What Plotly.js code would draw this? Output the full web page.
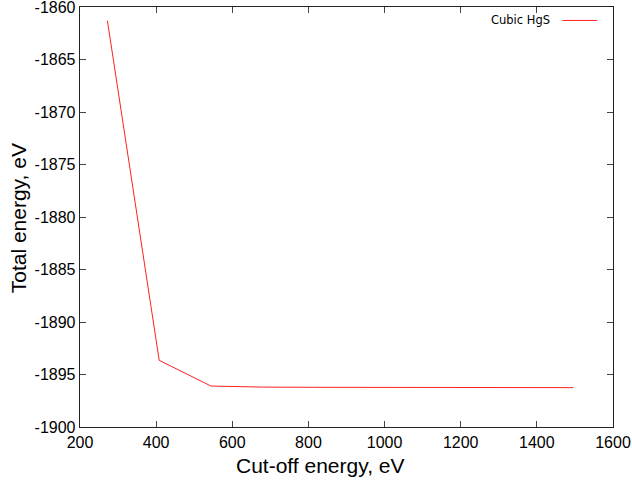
<!DOCTYPE html>
<html>
<head>
<meta charset="utf-8">
<script src="https://cdn.plot.ly/plotly-3.0.1.min.js"></script>
<style>html,body{margin:0;padding:0;background:#fff;}#chart{width:632px;height:481px;}</style>
</head>
<body>
<div id="chart"></div>
<script>
const cutoffEnergy = [272, 408, 544, 680, 816, 952, 1088, 1224, 1360, 1496];
const totalEnergy = [-1861.3, -1893.65, -1896.1, -1896.2, -1896.22, -1896.23, -1896.24, -1896.24, -1896.25, -1896.25];
const seriesName = "Cubic HgS";
const xTicks = [200, 400, 600, 800, 1000, 1200, 1400, 1600];
const yTicks = [-1900, -1895, -1890, -1885, -1880, -1875, -1870, -1865, -1860];
const xTitle = "Cut-off energy, eV";
const yTitle = "Total energy, eV";

const trace = {
  x: cutoffEnergy, y: totalEnergy, type: 'scatter', mode: 'lines',
  name: seriesName, line: {color: '#ff2020', width: 1}, showlegend: false
};
const axisCommon = {
  showgrid: false, zeroline: false, showline: true, mirror: 'ticks',
  linecolor: '#222', linewidth: 1.3, ticks: 'inside', ticklen: 6, tickcolor: '#444', tickwidth: 1,
  ticklabeloverflow: 'allow',
  tickfont: {family: 'Liberation Sans, Arial, sans-serif', size: 16, color: '#000'}
};
const titleFont = {family: 'Liberation Sans, Arial, sans-serif', size: 21, color: '#000'};
const layout = {
  width: 632, height: 481,
  margin: {l: 80, r: 19, t: 7, b: 54},
  paper_bgcolor: '#fff', plot_bgcolor: '#fff',
  xaxis: Object.assign({}, axisCommon, {
    range: [200, 1600], tickvals: xTicks, ticktext: xTicks.map(String)
  }),
  yaxis: Object.assign({}, axisCommon, {
    range: [-1900, -1860], tickvals: yTicks, ticktext: yTicks.map(String)
  }),
  annotations: [{
    xref: 'paper', yref: 'paper', x: 0.885, y: 0.968, xanchor: 'right', yanchor: 'middle',
    text: seriesName, showarrow: false,
    font: {family: 'DejaVu Sans, sans-serif', size: 11.5, color: '#000'}
  }, {
    xref: 'paper', yref: 'paper', x: (320 - 80) / 533, y: -(465 - 426.7) / 420,
    xanchor: 'center', yanchor: 'middle', text: xTitle, showarrow: false, font: titleFont
  }, {
    xref: 'paper', yref: 'paper', x: -(80 - 18) / 533, y: (426.7 - 218) / 420,
    xanchor: 'center', yanchor: 'middle', textangle: -90, text: yTitle, showarrow: false, font: titleFont
  }],
  shapes: [{
    type: 'line', xref: 'paper', yref: 'paper', x0: 0.905, x1: 0.97, y0: 0.968, y1: 0.968,
    line: {color: '#ff2020', width: 1}
  }]
};
Plotly.newPlot('chart', [trace], layout, {displayModeBar: false, staticPlot: true});
</script>
</body>
</html>
